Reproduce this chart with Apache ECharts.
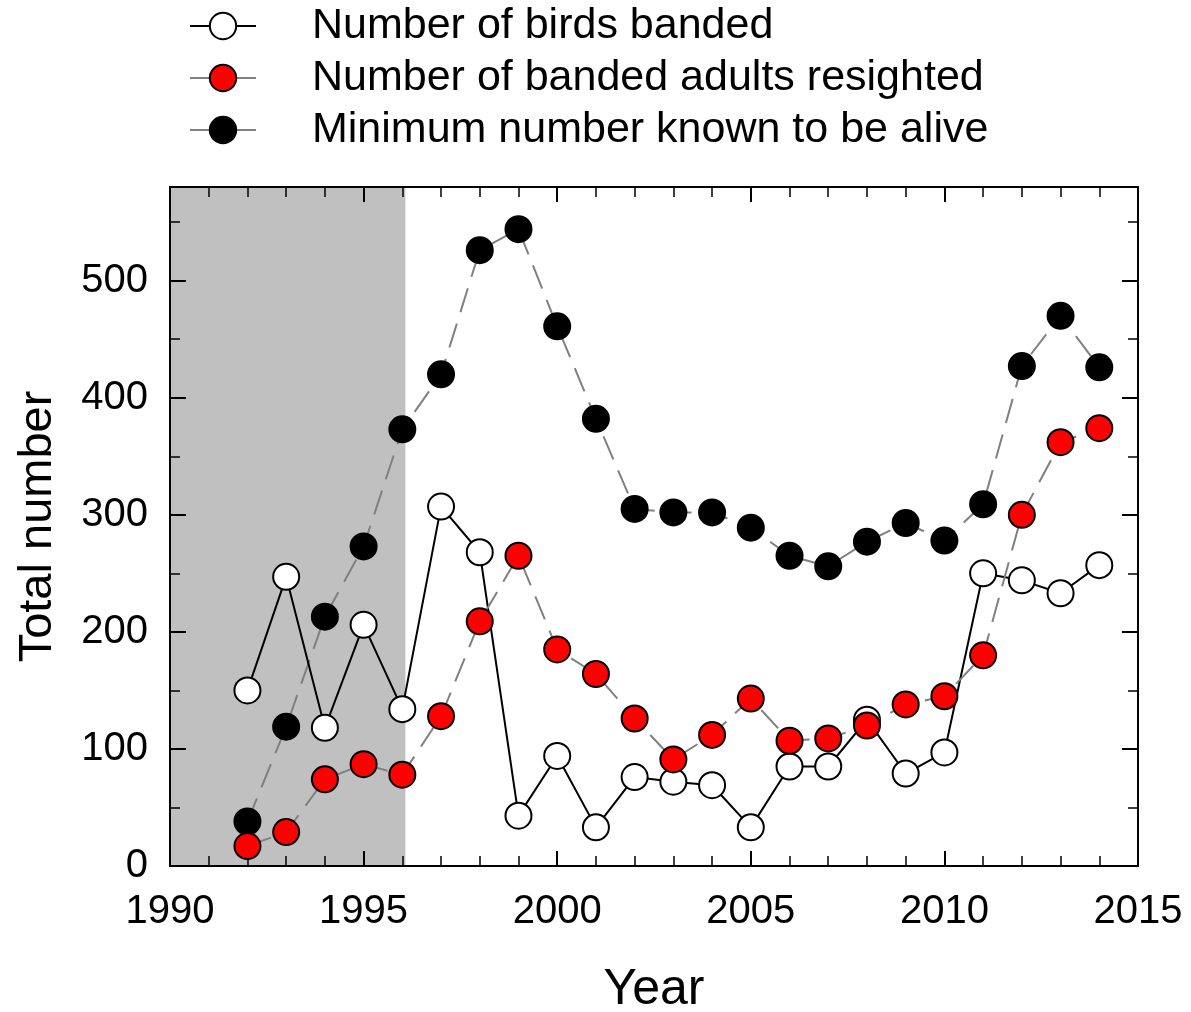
<!DOCTYPE html>
<html>
<head>
<meta charset="utf-8">
<script src="https://cdn.jsdelivr.net/npm/echarts@6/dist/echarts.min.js"></script>
<style>html,body{margin:0;padding:0;background:#fff}#c{width:1191px;height:1012px}</style>
</head>
<body>
<div id="c"></div>
<script>
const years = [1992,1993,1994,1995,1996,1997,1998,1999,2000,2001,2002,2003,2004,2005,2006,2007,2008,2009,2010,2011,2012,2013,2014];
const birdsBanded = [150,247,118,206,134,307,268,43,94,33,76,72,69,33,85,85,125,79,97,250,244,233,257];
const adultsResighted = [17,29,74,87,78,128,209,265,185,164,126,91,112,143,107,109,120,138,145,180,300,362,374];
const minKnownAlive = [38,119,213,273,373,420,526,544,461,382,305,302,302,289,265,256,277,293,278,309,427,470,426];
const seriesNames = ['Number of birds banded','Number of banded adults resighted','Minimum number known to be alive'];
const shadedPeriod = [1990, 1996.08];
const xTicks = {min:1990, max:2015, interval:5};
const yTicks = {min:0, max:580, interval:100};

const pairs = a => years.map((y,i)=>[y,a[i]]);
const FONT = 'Liberation Sans, Arial, sans-serif';
const chart = echarts.init(document.getElementById('c'), null, {renderer:'canvas'});

const baseX = {type:'value', min:xTicks.min, max:xTicks.max, interval:xTicks.interval, splitLine:{show:false},
  axisLine:{show:true, onZero:false, lineStyle:{color:'#000', width:2}}};
const baseY = {type:'value', min:yTicks.min, max:yTicks.max, splitLine:{show:false},
  axisLine:{show:true, onZero:false, lineStyle:{color:'#000', width:2}}};

const symStyle = (fill)=>({color:fill, borderColor:'#000', borderWidth:2, opacity:1});

chart.setOption({
  animation:false,
  backgroundColor:'#fff',
  grid:{left:170, right:53, top:187, bottom:146, containLabel:false, outerBoundsMode:'none'},
  legend:{
    orient:'vertical', left:184, top:-3, itemGap:4, itemWidth:66, itemHeight:33,
    textStyle:{fontFamily:FONT, fontSize:43, color:'#000', lineHeight:48, padding:[0,0,0,51]},
    data:[
      {name:seriesNames[0], lineStyle:{type:'solid', color:'#000', width:2}},
      {name:seriesNames[1], lineStyle:{type:'solid', color:'#808080', width:2}},
      {name:seriesNames[2], lineStyle:{type:'solid', color:'#808080', width:2}}
    ]
  },
  xAxis:[
    Object.assign({}, baseX, {position:'bottom', name:'Year', nameLocation:'middle', nameGap:99,
      nameTextStyle:{fontFamily:FONT, fontSize:50, color:'#000'},
      axisTick:{show:true, inside:true, length:15, lineStyle:{color:'#000', width:2}},
      minorTick:{show:true, splitNumber:5, length:10, lineStyle:{color:'#000', width:1.5}},
      axisLabel:{show:true, margin:26, fontFamily:FONT, fontSize:40, color:'#000', formatter:v=>String(v)}}),
    Object.assign({}, baseX, {position:'top',
      axisTick:{show:true, inside:true, length:15, lineStyle:{color:'#000', width:2}},
      minorTick:{show:true, splitNumber:5, length:10, lineStyle:{color:'#000', width:1.5}},
      axisLabel:{show:false}})
  ],
  yAxis:[
    Object.assign({}, baseY, {position:'left', interval:100, name:'Total number', nameLocation:'middle', nameGap:108,
      nameTextStyle:{fontFamily:FONT, fontSize:47, color:'#000'},
      axisTick:{show:true, inside:true, length:16, lineStyle:{color:'#000', width:2}},
      axisLabel:{show:true, margin:22, fontFamily:FONT, fontSize:40, color:'#000',
        formatter:v=> (v % 100 === 0 ? String(v) : '')}}),
    Object.assign({}, baseY, {position:'left', offset:0, interval:50,
      axisTick:{show:true, inside:true, length:10, lineStyle:{color:'#000', width:1.5}},
      axisLabel:{show:false}}),
    Object.assign({}, baseY, {position:'right', offset:0, interval:100,
      axisTick:{show:true, inside:true, length:16, lineStyle:{color:'#000', width:2}},
      axisLabel:{show:false}}),
    Object.assign({}, baseY, {position:'right', offset:0, interval:50,
      axisTick:{show:true, inside:true, length:10, lineStyle:{color:'#000', width:1.5}},
      axisLabel:{show:false}})
  ],
  series:[
    {
      name:seriesNames[2], type:'line', z:2, data:pairs(minKnownAlive),
      symbol:'circle', symbolSize:26,
      lineStyle:{color:'#808080', width:2, type:[25,12]},
      itemStyle:symStyle('#000'),
      markArea:{silent:true, z:0, itemStyle:{color:'#c0c0c0', opacity:1},
        data:[[{xAxis:shadedPeriod[0]},{xAxis:shadedPeriod[1]}]]}
    },
    {
      name:seriesNames[0], type:'line', z:3, data:pairs(birdsBanded),
      symbol:'circle', symbolSize:26,
      lineStyle:{color:'#000', width:2, type:'solid'},
      itemStyle:symStyle('#fff')
    },
    {
      name:seriesNames[1], type:'line', z:4, data:pairs(adultsResighted),
      symbol:'circle', symbolSize:26,
      lineStyle:{color:'#808080', width:2, type:[25,12]},
      itemStyle:symStyle('#ff0000')
    }
  ]
});
</script>
</body>
</html>
